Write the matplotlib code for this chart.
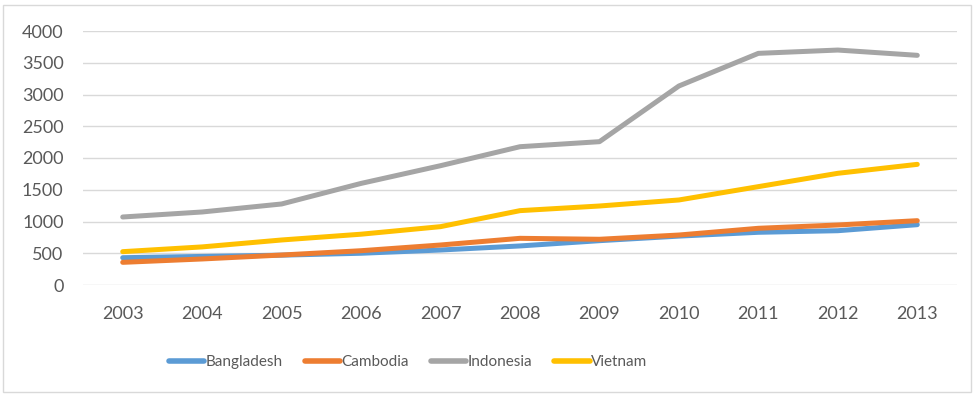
import matplotlib
matplotlib.use("Agg")
import matplotlib.pyplot as plt
from matplotlib.patches import Rectangle

years = ["2003", "2004", "2005", "2006", "2007", "2008", "2009", "2010", "2011", "2012", "2013"]
bangladesh = [430, 450, 470, 500, 551, 615, 698, 770, 830, 855, 950]
cambodia = [357, 410, 472, 540, 630, 735, 720, 787, 893, 945, 1013]
indonesia = [1071, 1150, 1276, 1600, 1879, 2178, 2257, 3134, 3648, 3700, 3617]
vietnam = [525, 600, 709, 800, 919, 1171, 1244, 1339, 1549, 1759, 1900]
series_names = ["Bangladesh", "Cambodia", "Indonesia", "Vietnam"]
colors = ["#5b9bd5", "#ed7d31", "#a5a5a5", "#ffc000"]
yticks = [0, 500, 1000, 1500, 2000, 2500, 3000, 3500, 4000]

plt.rcParams['font.family'] = ['Lato', 'DejaVu Sans']

fig = plt.figure(figsize=(9.74, 3.96), dpi=100)
ax = fig.add_axes([83/974, 1-285/396, (957-83)/974, (285-31)/396])

x = list(range(len(years)))
for name, vals, c in zip(series_names, [bangladesh, cambodia, indonesia, vietnam], colors):
    ax.plot(x, vals, color=c, lw=3.6, label=name, solid_capstyle='round', solid_joinstyle='round')

ax.set_xlim(-0.5, len(years) - 0.5)
ax.set_ylim(0, 4000)
ax.set_yticks(yticks)
ax.set_yticklabels([str(v) for v in yticks])
ax.set_xticks(x)
ax.set_xticklabels(years)
ax.grid(axis='y', color='#d9d9d9', lw=1)
ax.set_axisbelow(True)
for s in ax.spines.values():
    s.set_visible(False)
ax.tick_params(length=0, labelsize=13, colors='#595959')
ax.tick_params(axis='x', pad=15)
ax.tick_params(axis='y', pad=14)

leg = fig.legend(loc='center', bbox_to_anchor=(408/974, 1-362/396), ncol=4, frameon=False,
                 fontsize=11, handlelength=2.3, handletextpad=0.1, columnspacing=1.45)
for t in leg.get_texts():
    t.set_color('#595959')
for l in leg.get_lines():
    l.set_linewidth(4)

fig.patches.append(Rectangle((3/974, 1-392/396), 968/974, 387/396, transform=fig.transFigure,
                             fill=False, edgecolor='#d9d9d9', lw=1))

fig.savefig("out.png", dpi=100)
